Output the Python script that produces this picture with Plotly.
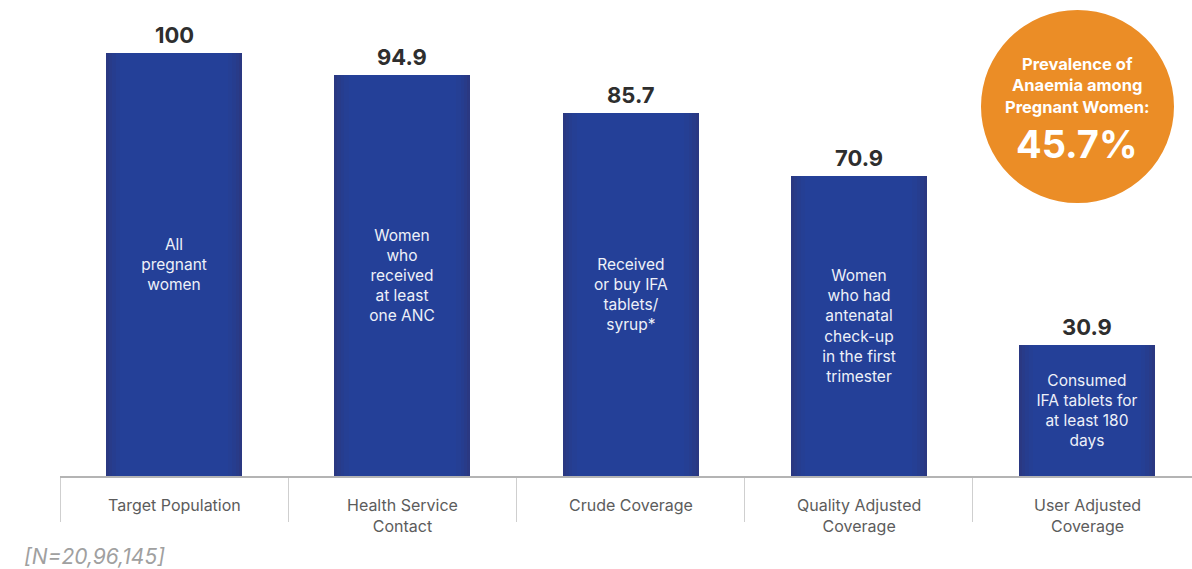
import plotly.graph_objects as go

# Coverage cascade for pregnant women (IFA supplementation)
stages = ["Target Population", "Health Service Contact", "Crude Coverage",
          "Quality Adjusted Coverage", "User Adjusted Coverage"]
stage_labels = ["Target Population", "Health Service<br>Contact", "Crude Coverage",
                "Quality Adjusted<br>Coverage", "User Adjusted<br>Coverage"]
values = [100, 94.9, 85.7, 70.9, 30.9]
value_labels = ["100", "94.9", "85.7", "70.9", "30.9"]
bar_notes = ["All<br>pregnant<br>women",
             "Women<br>who<br>received<br>at least<br>one ANC",
             "Received<br>or buy IFA<br>tablets/<br>syrup*",
             "Women<br>who had<br>antenatal<br>check-up<br>in the first<br>trimester",
             "Consumed<br>IFA tablets for<br>at least 180<br>days"]
anaemia_prevalence = "45.7%"
sample_note = "[N=20,96,145]"

FONT = "Inter"
BAR_W = 0.596

fig = go.Figure()

# Layered bars give each column a soft horizontal shading (dark edges, brighter centre)
layers = [(BAR_W, "#2a3882"), (0.57, "#283b89"), (0.54, "#263d8f"),
          (0.51, "#253f94"), (0.47, "#244098")]
for w, c in layers:
    fig.add_trace(go.Bar(x=stages, y=values, width=w, marker_color=c,
                         marker_line_width=0, hoverinfo="skip", showlegend=False))

# Transparent top layer carrying the description inside each bar
fig.add_trace(go.Bar(x=stages, y=values, width=BAR_W, marker_color="rgba(0,0,0,0)",
                     marker_line_width=0, text=bar_notes, textposition="inside",
                     insidetextanchor="middle", textangle=0,
                     textfont=dict(family=FONT, size=15.5, color="#eef1f8"),
                     showlegend=False, hoverinfo="skip"))

# Value labels above bars
for s, v, t in zip(stages, values, value_labels):
    fig.add_annotation(x=s, y=v, text=f"<b>{t}</b>", showarrow=False,
                       yanchor="bottom", yshift=3,
                       font=dict(family=FONT, size=22, color="#2e2e2e", weight=800))

# Stage names under the axis
for s, lab in zip(stages, stage_labels):
    fig.add_annotation(x=s, y=0, yref="paper", text=lab, showarrow=False,
                       yanchor="top", yshift=-17,
                       font=dict(family=FONT, size=16, color="#5c5c5c"))

# Prevalence badge
fig.add_shape(type="circle", xref="paper", yref="paper",
              x0=0.8136, x1=0.9841, y0=0.5858, y1=1.0,
              fillcolor="#eb8d26", line_width=0, layer="below")
fig.add_annotation(xref="paper", yref="paper", x=0.8988, y=0.838,
                   text="<b>Prevalence of<br>Anaemia among<br>Pregnant Women:</b>",
                   showarrow=False, xanchor="center", yanchor="middle",
                   font=dict(family=FONT, size=16.5, color="white"))
fig.add_annotation(xref="paper", yref="paper", x=0.8988, y=0.7124,
                   text=f"<b>{anaemia_prevalence}</b>", showarrow=False,
                   xanchor="center", yanchor="middle",
                   font=dict(family=FONT, size=38, color="white"))

# Sample size note
fig.add_annotation(xref="paper", yref="paper", x=-0.0336, y=-0.1717,
                   text=f"<i>{sample_note}</i>", showarrow=False,
                   xanchor="left", yanchor="middle",
                   font=dict(family=FONT, size=21, color="#a0a0a0"))

fig.update_layout(
    width=1192, height=569,
    margin=dict(l=60, r=0, t=10, b=93),
    paper_bgcolor="white", plot_bgcolor="white",
    barmode="overlay", bargap=0,
    xaxis=dict(type="category", range=[-0.5, 4.46], showticklabels=False,
               showline=True, linecolor="#b4b4b4", linewidth=2,
               ticks="outside", tickson="boundaries", ticklen=44,
               tickcolor="#cfcfcf", tickwidth=1, showgrid=False, zeroline=False),
    yaxis=dict(range=[0, 466 / 4.23], visible=False, showgrid=False),
)

fig.write_html("out.html")
